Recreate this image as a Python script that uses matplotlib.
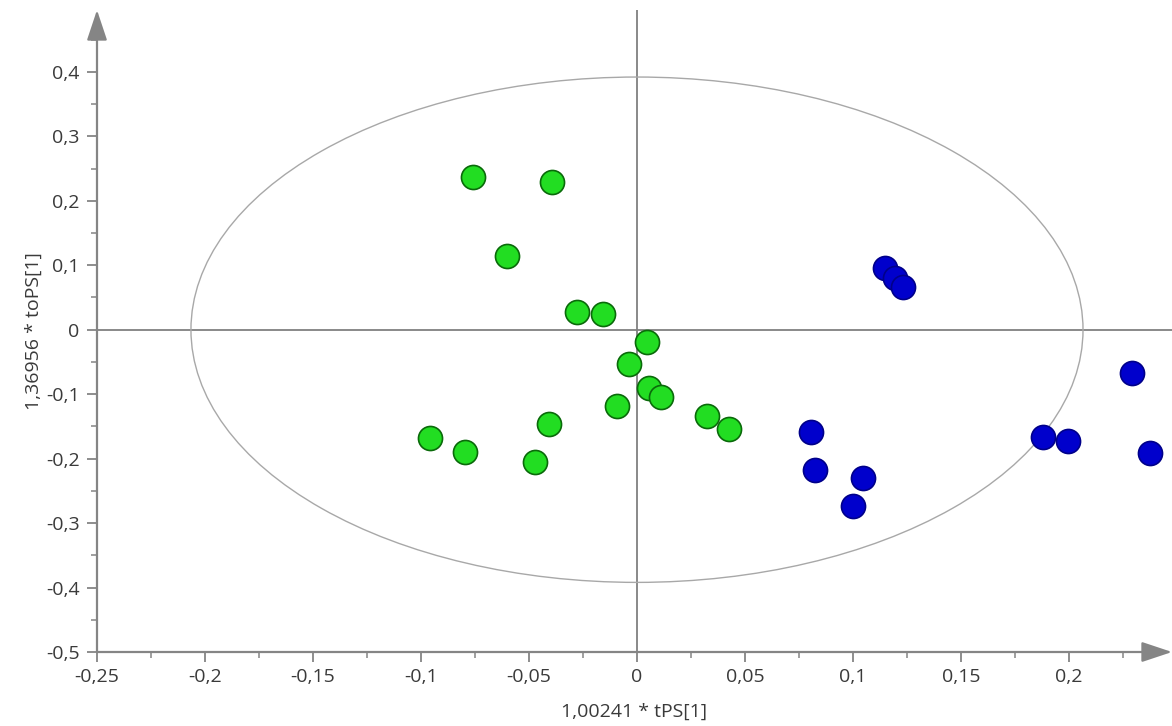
import matplotlib
matplotlib.use("Agg")
import matplotlib.pyplot as plt
from matplotlib.patches import Ellipse
from matplotlib.ticker import MultipleLocator, FuncFormatter

plt.rcParams['font.family'] = ['Open Sans', 'DejaVu Sans']

green_x = [-0.0759, -0.0394, -0.0602, -0.0278, -0.0157, 0.0046, -0.0037, 0.0056,
           0.0110, -0.0093, 0.0324, 0.0426, -0.0407, -0.0958, -0.0796, -0.0472]
green_y = [0.237, 0.229, 0.114, 0.0275, 0.0244, -0.019, -0.053, -0.090,
           -0.104, -0.118, -0.134, -0.154, -0.146, -0.168, -0.190, -0.205]

blue_x = [0.1148, 0.1194, 0.1233, 0.2290, 0.0806, 0.0824, 0.1048, 0.1001,
          0.1881, 0.1994, 0.2375]
blue_y = [0.0962, 0.0798, 0.0667, -0.0677, -0.159, -0.218, -0.230, -0.274,
          -0.166, -0.172, -0.191]

ellipse_half_w = 0.2065
ellipse_half_h = 0.392

xlabel = "1,00241 * tPS[1]"
ylabel = "1,36956 * toPS[1]"

W, H = 1172, 726
fig = plt.figure(figsize=(W / 100, H / 100), dpi=100)
ax = fig.add_axes([97 / W, 1 - 652 / H, (1172 - 97) / W, (652 - 10) / H])
ax.set_xlim(-0.25, 0.2477)
ax.set_ylim(-0.5, 0.496)

for s in ax.spines.values():
    s.set_visible(False)

axis_col = '#858585'
# axes with arrows
ax.annotate('', xy=(1, 0), xytext=(0, 0), xycoords='axes fraction',
            arrowprops=dict(arrowstyle='-|>,head_length=0.75,head_width=0.25',
                            color=axis_col, lw=1.6, mutation_scale=25,
                            shrinkA=0, shrinkB=0))
ax.annotate('', xy=(0, 1), xytext=(0, 0), xycoords='axes fraction',
            arrowprops=dict(arrowstyle='-|>,head_length=0.75,head_width=0.25',
                            color=axis_col, lw=1.6, mutation_scale=25,
                            shrinkA=0, shrinkB=0))

# zero lines
ax.axhline(0, color='#808080', lw=1.3, zorder=1)
ax.axvline(0, color='#808080', lw=1.3, zorder=1)

# ellipse
ax.add_patch(Ellipse((0, 0), 2 * ellipse_half_w, 2 * ellipse_half_h,
                     fill=False, edgecolor='#a8a8a8', lw=1.0, zorder=1))

ax.scatter(green_x, green_y, s=300, c='#22dd22', edgecolors='#0a6a0a',
           linewidths=1.2, zorder=3)
ax.scatter(blue_x, blue_y, s=300, c='#0000cc', edgecolors='#00008a',
           linewidths=1.2, zorder=3)

fmt = FuncFormatter(lambda v, p: ('%g' % round(v, 3)).replace('.', ','))
ax.xaxis.set_minor_locator(MultipleLocator(0.025))
ax.yaxis.set_minor_locator(MultipleLocator(0.05))
ax.set_xticks([v / 100 for v in range(-25, 21, 5)])
ax.set_yticks([v / 10 for v in range(-5, 5)])
ax.xaxis.set_major_formatter(fmt)
ax.yaxis.set_major_formatter(fmt)

ax.tick_params(which='major', direction='out', length=7.5, width=1.3,
               color=axis_col, labelsize=14, labelcolor='#3a3a3a')
ax.tick_params(axis='y', which='major', pad=5)
ax.tick_params(axis='x', which='major', pad=4)
ax.tick_params(which='minor', direction='out', length=4.5, width=1.1,
               color=axis_col)

ax.set_xlabel(xlabel, fontsize=14, color='#3a3a3a', labelpad=12)
ax.set_ylabel(ylabel, fontsize=14, color='#3a3a3a', labelpad=2)

fig.savefig('out.png', dpi=100, facecolor='white')
